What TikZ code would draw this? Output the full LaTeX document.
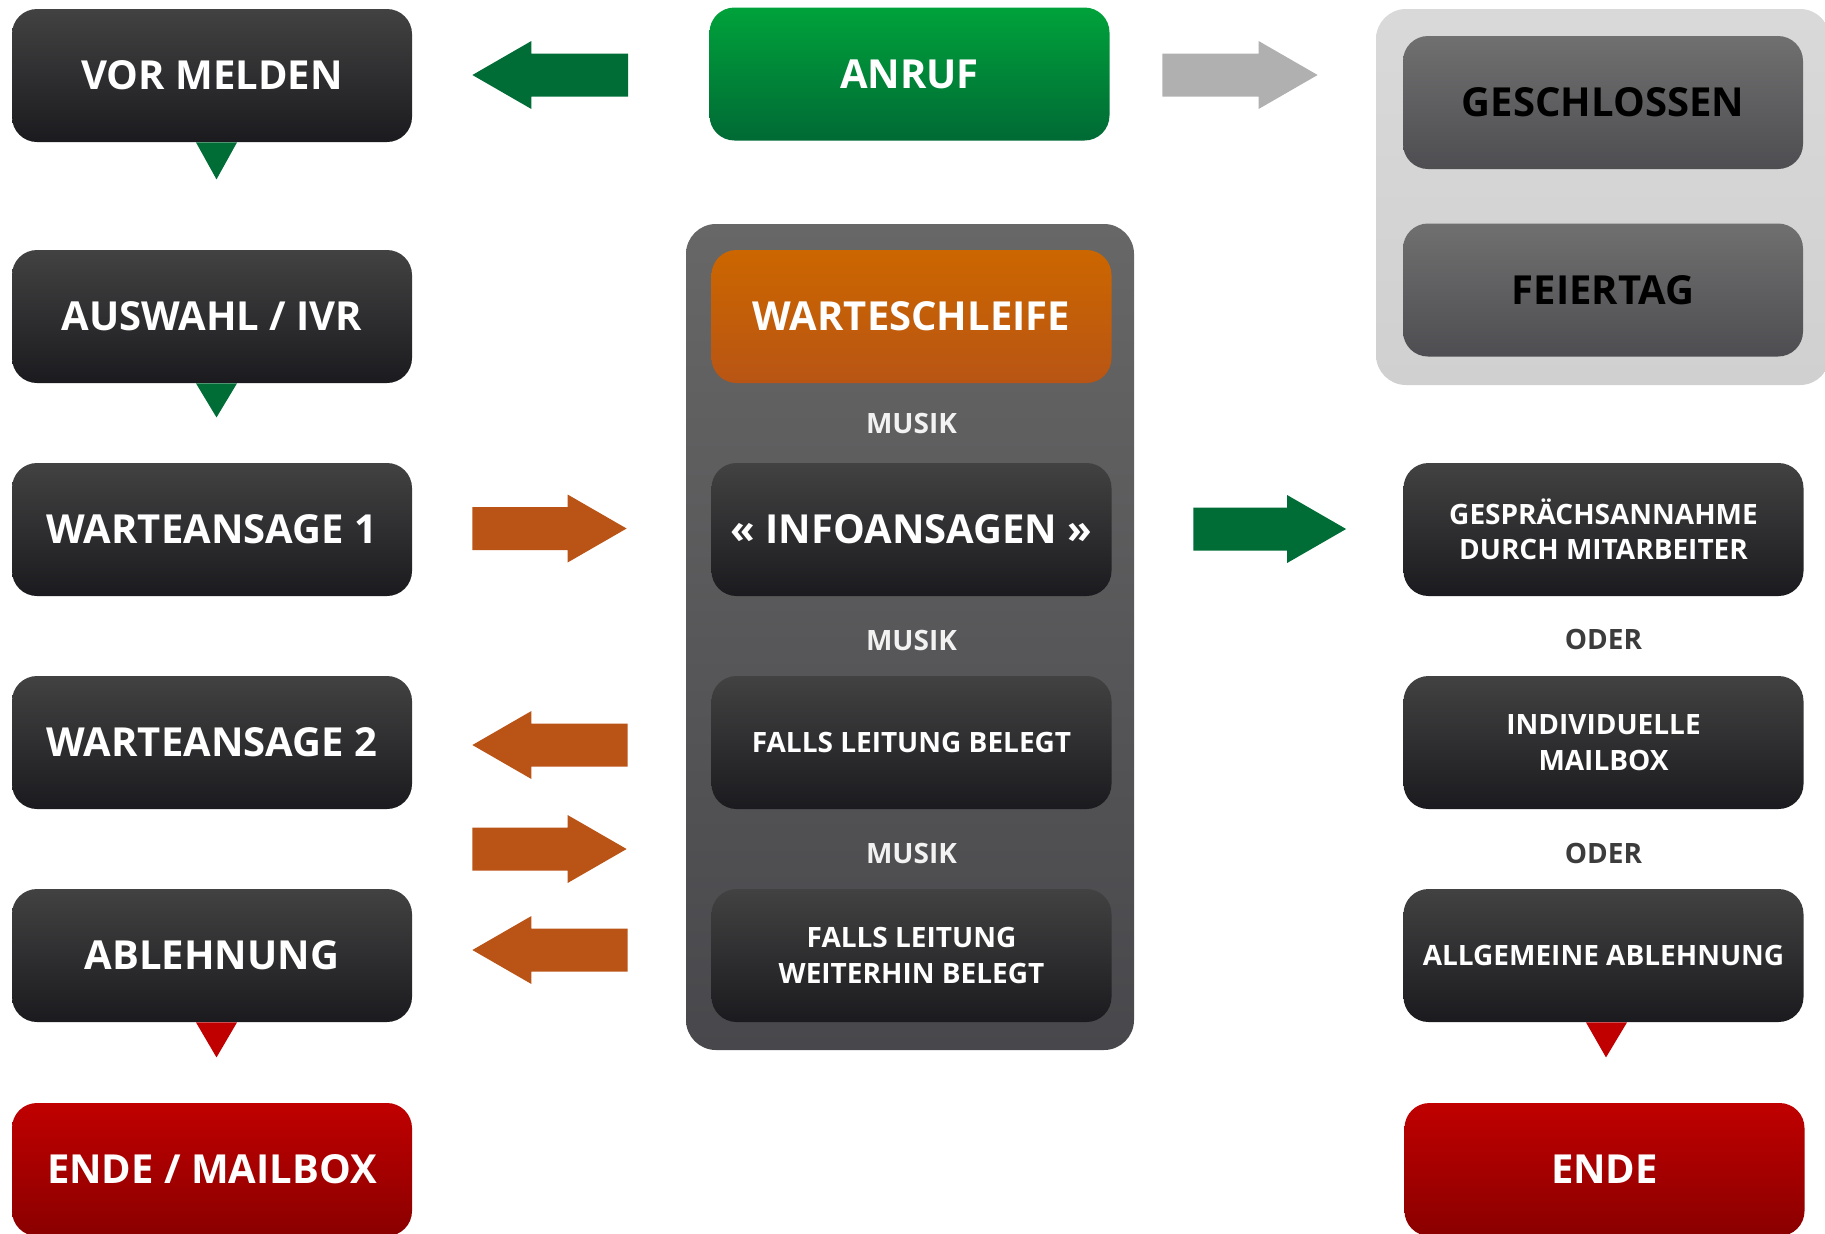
\documentclass[tikz,border=0pt]{standalone}
\usepackage{fontspec}
\setmainfont{Open Sans}
\usetikzlibrary{calc}
\definecolor{boxtop}{HTML}{424242}
\definecolor{boxbot}{HTML}{1B1A1E}
\definecolor{greentop}{HTML}{00A23B}
\definecolor{greenbot}{HTML}{006A35}
\definecolor{greenarr}{HTML}{006D36}
\definecolor{orangetop}{HTML}{CC6600}
\definecolor{orangebot}{HTML}{B85514}
\definecolor{orangearr}{HTML}{BA5316}
\definecolor{grayarr}{HTML}{B0B0B0}
\definecolor{lighttop}{HTML}{D9D9D9}
\definecolor{lightbot}{HTML}{D0D0D0}
\definecolor{midtop}{HTML}{707070}
\definecolor{midbot}{HTML}{4E4D51}
\definecolor{holdtop}{HTML}{676767}
\definecolor{holdbot}{HTML}{48474B}
\definecolor{redtop}{HTML}{C00000}
\definecolor{redbot}{HTML}{8A0000}
\definecolor{redtri}{HTML}{C00000}
\definecolor{odergray}{HTML}{3C3C3C}
\definecolor{musikwhite}{HTML}{F2F2F2}

\newcommand\bigtxt{\fontsize{20pt}{24pt}\selectfont\bfseries}
\newcommand\smalltxt{\fontsize{14pt}{17.75pt}\selectfont\bfseries}

% #1 tail, #2 tip, #3 style, #4 direction (1 = right, -1 = left)
\newcommand\blockarrow[4]{%
  \fill[#3] let \p1=(#1), \p2=(#2) in
    (\x1,{\y1+10.75pt}) -- ({\x2-#4*29.5pt},{\y1+10.75pt}) -- ({\x2-#4*29.5pt},{\y1+17pt}) -- (\x2,\y1)
    -- ({\x2-#4*29.5pt},{\y1-17pt}) -- ({\x2-#4*29.5pt},{\y1-10.75pt}) -- (\x1,{\y1-10.75pt}) -- cycle;}

\tikzset{
  basebox/.style={rectangle, rounded corners=12.5pt, minimum width=200pt, minimum height=66.5pt,
    inner sep=0pt, align=center, text=white},
  darkbox/.style={basebox, top color=boxtop, bottom color=boxbot},
  darkbig/.style={darkbox, font=\bigtxt},
  darksmall/.style={darkbox, font=\smalltxt},
  greenbox/.style={basebox, top color=greentop, bottom color=greenbot, font=\bigtxt},
  orangebox/.style={basebox, top color=orangetop, bottom color=orangebot, font=\bigtxt},
  redbox/.style={basebox, top color=redtop, bottom color=redbot, font=\bigtxt},
  midbox/.style={basebox, top color=midtop, bottom color=midbot, font=\bigtxt, text=black},
  holdbox/.style={rectangle, rounded corners=15pt, minimum width=224pt, minimum height=413pt,
    inner sep=0pt, top color=holdtop, bottom color=holdbot},
  closedbox/.style={rectangle, rounded corners=15pt, minimum width=227pt, minimum height=188pt,
    inner sep=0pt, top color=lighttop, bottom color=lightbot},
  musiklabel/.style={font=\smalltxt, text=musikwhite, inner sep=0pt},
  oderlabel/.style={font=\smalltxt, text=odergray, inner sep=0pt},
  greenfill/.style={fill=greenarr},
  orangefill/.style={fill=orangearr},
  grayfill/.style={fill=grayarr},
  redfill/.style={fill=redtri}
}

\begin{document}
\begin{tikzpicture}[x=0.5pt, y=-0.5pt]
\useasboundingbox (0,0) rectangle (1825,1233);
\clip (0,0) rectangle (1825,1233);

% containers
\node[holdbox] (hold) at (910,637) {};
\node[closedbox] (closed) at (1603,197) {};

% left column
\node[darkbig] (vor) at (212,75.5) {VOR MELDEN};
\node[darkbig] (ivr) at (212,316.5) {AUSWAHL / IVR};
\node[darkbig] (wa1) at (212,529.5) {WARTEANSAGE 1};
\node[darkbig] (wa2) at (212,742.5) {WARTEANSAGE 2};
\node[darkbig] (abl) at (212,955.5) {ABLEHNUNG};
\node[redbox] (endem) at (212,1169.5) {ENDE / MAILBOX};

% center column
\node[greenbox] (anruf) at (909.5,74) {ANRUF};
\node[orangebox] (ws) at (911.5,316.5) {WARTESCHLEIFE};
\node[darkbig] (info) at (911.5,529.5) {« INFOANSAGEN »};
\node[darksmall] (flb) at (911.5,742.5) {FALLS LEITUNG BELEGT};
\node[darksmall] (flwb) at (911.5,955.5) {FALLS LEITUNG\\WEITERHIN BELEGT};
\node[musiklabel] (m1) at (911.5,423) {MUSIK};
\node[musiklabel] (m2) at (911.5,640) {MUSIK};
\node[musiklabel] (m3) at (911.5,853) {MUSIK};

% right column
\node[midbox] (gesch) at (1603,102.5) {GESCHLOSSEN};
\node[midbox] (feier) at (1603,290) {FEIERTAG};
\node[darksmall] (gesp) at (1603.5,529.5) {GESPRÄCHSANNAHME\\DURCH MITARBEITER};
\node[darksmall] (mail) at (1603.5,742.5) {INDIVIDUELLE\\MAILBOX};
\node[darksmall] (allg) at (1603.5,955.5) {ALLGEMEINE ABLEHNUNG};
\node[redbox] (ende) at (1604.5,1169.5) {ENDE};
\node[oderlabel] (o1) at (1603.5,639) {ODER};
\node[oderlabel] (o2) at (1603.5,853) {ODER};

% pointer triangles
\fill[greenfill] ($(vor.south)+(-16,0)$) -- ($(vor.south)+(25,0)$) -- ($(vor.south)+(4.5,37)$) -- cycle;
\fill[greenfill] ($(ivr.south)+(-16,0)$) -- ($(ivr.south)+(25,0)$) -- ($(ivr.south)+(4.5,34)$) -- cycle;
\fill[redfill] ($(abl.south)+(-16,0)$) -- ($(abl.south)+(25,0)$) -- ($(abl.south)+(4.5,35)$) -- cycle;
\fill[redfill] ($(allg.south)+(-17.5,0)$) -- ($(allg.south)+(23.5,0)$) -- ($(allg.south)+(2.5,35)$) -- cycle;

% block arrows
\coordinate (a1tip) at ($(vor.east)+(60,-0.5)$);
\coordinate (a1tail) at ($(anruf.west |- a1tip)+(-81,0)$);
\blockarrow{a1tail}{a1tip}{greenfill}{-1}

\coordinate (a2tail) at ($(anruf.east |- a1tip)+(52.5,0)$);
\coordinate (a2tip) at ($(closed.west |- a1tip)+(-58,0)$);
\blockarrow{a2tail}{a2tip}{grayfill}{1}

\coordinate (a3tail) at ($(wa1.east)+(60,-1)$);
\coordinate (a3tip) at ($(hold.west |- a3tail)+(-59,0)$);
\blockarrow{a3tail}{a3tip}{orangefill}{1}

\coordinate (a4tail) at ($(hold.west |- wa2.east)+(-58,2.5)$);
\coordinate (a4tip) at ($(wa2.east)+(60,2.5)$);
\blockarrow{a4tail}{a4tip}{orangefill}{-1}

\coordinate (a5tail) at ($(wa2.east)!0.5!(abl.east)+(60,0)$);
\coordinate (a5tip) at ($(hold.west |- a5tail)+(-59,0)$);
\blockarrow{a5tail}{a5tip}{orangefill}{1}

\coordinate (a6tail) at ($(hold.west |- abl.east)+(-58,-5.5)$);
\coordinate (a6tip) at ($(abl.east)+(60,-5.5)$);
\blockarrow{a6tail}{a6tip}{orangefill}{-1}

\coordinate (a7tail) at ($(hold.east |- gesp.west)+(59,-0.5)$);
\coordinate (a7tip) at ($(gesp.west)+(-57,-0.5)$);
\blockarrow{a7tail}{a7tip}{greenfill}{1}
\end{tikzpicture}
\end{document}
